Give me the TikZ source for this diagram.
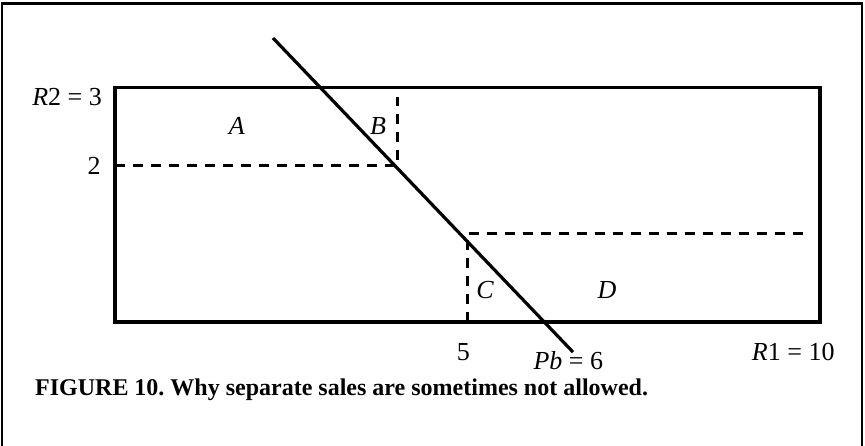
\documentclass[tikz,border=0pt]{standalone}
\usepackage{fontspec}
\setmainfont{Liberation Serif}
\frenchspacing
\tikzset{
    % --- estilos ---
    box_line/.style={line width=3.2pt, line join=miter},
    price_line/.style={line width=3.2pt},
    split_line/.style={line width=3pt, dash pattern=on 10pt off 8pt},
    frame_line/.style={line width=2.6pt},
    lbl/.style={font=\fontsize{26}{30}\selectfont, inner sep=0pt},
    caption/.style={font=\fontsize{24}{28}\selectfont\bfseries, inner sep=0pt, anchor=west}
}

\begin{document}
\begin{tikzpicture}[x=70.5pt, y=78.2pt]
    \useasboundingbox (-1.631,-1.573) rectangle (10.638,4.118);

    % marco exterior
    \draw[frame_line] (-1.6,-1.7) -- (-1.6,4.073) -- (10.596,4.073) -- (10.596,-1.7);

    % rectangulo R1 x R2
    \coordinate (o) at (0,0);
    \coordinate (r1) at (10,0);
    \coordinate (top) at (10,3);
    \coordinate (r2) at (0,3);
    \draw[box_line] (o) -- (r1) -- (top) -- (r2) -- cycle;

    % cortes de la division
    \coordinate (b1) at (4,2);
    \coordinate (c1) at (5,1.138);
    \draw[split_line] (0,2) -- (b1) -- (4,2.877);
    \draw[split_line] (5,0) -- (c1) -- (9.858,1.138);

    % recta Pb
    \coordinate (pbtop) at (2.241,3.632);
    \coordinate (pbend) at (6.496,-0.384);
    \draw[price_line] (pbtop) -- (pbend);

    % etiquetas
    \node[lbl, anchor=base east] (lblR2) at (-0.184,2.775) {\textit{R}2 = 3};
    \node[lbl, anchor=east] (lbl2) at (-0.2,2) {2};
    \node[lbl] (lblA) at (1.73,2.51) {\textit{A}};
    \node[lbl] (lblB) at (3.73,2.51) {\textit{B}};
    \node[lbl] (lblC) at (5.25,0.41) {\textit{C}};
    \node[lbl] (lblD) at (6.98,0.41) {\textit{D}};
    \node[lbl] (lbl5) at (4.94,-0.38) {5};
    \node[lbl] (lblPb) at (6.43,-0.49) {\textit{Pb} = 6};
    \node[lbl] (lblR1) at (9.62,-0.38) {\textit{R}1 = 10};

    \node[caption] (cap) at (-1.135,-0.86) {FIGURE 10. Why separate sales are sometimes not allowed.};
\end{tikzpicture}
\end{document}
